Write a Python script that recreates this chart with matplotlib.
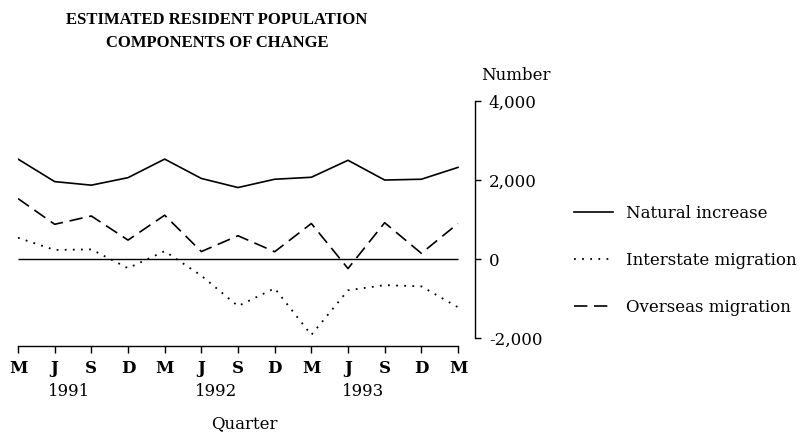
import matplotlib
matplotlib.use("Agg")
import matplotlib.pyplot as plt
from matplotlib import transforms

plt.rcParams['font.family'] = ['DejaVu Serif']
TITLE_FONT = ['Liberation Serif', 'DejaVu Serif']

months = ["M", "J", "S", "D", "M", "J", "S", "D", "M", "J", "S", "D", "M"]
years = ["1991", "1992", "1993"]
year_pos = [1, 5, 9]
natural = [2530, 1960, 1870, 2060, 2530, 2040, 1810, 2020, 2070, 2500, 2000, 2020, 2320]
interstate = [540, 230, 245, -230, 200, -420, -1190, -740, -1920, -790, -660, -690, -1220]
overseas = [1530, 880, 1090, 480, 1110, 190, 590, 185, 900, -240, 920, 145, 900]
yticks = [4000, 2000, 0, -2000]
ytick_labels = ["4,000", "2,000", "0", "-2,000"]

x = list(range(len(months)))

fig = plt.figure(figsize=(8.06, 4.34), dpi=100)
ax = fig.add_axes([18/806, 1-346/434, (475-18)/806, (346-101)/434])

ax.hlines(0, x[0], x[-1], color='black', lw=1.0)
ax.plot(x, natural, color='black', lw=1.2, label='Natural increase')
ax.plot(x, interstate, color='black', lw=1.3, linestyle=(0, (1, 3.5)), label='Interstate migration')
ax.plot(x, overseas, color='black', lw=1.2, linestyle=(0, (8, 4)), label='Overseas migration')

ax.set_xlim(0, (475-18)/((458-18)/12))
ax.set_ylim(-2200, 4000)

for s in ['top', 'left']:
    ax.spines[s].set_visible(False)
ax.spines['right'].set_bounds(-2000, 4000)
ax.spines['bottom'].set_bounds(x[0], x[-1])
ax.spines['right'].set_linewidth(1.0)
ax.spines['bottom'].set_linewidth(1.0)

ax.yaxis.tick_right()
ax.set_yticks(yticks)
ax.set_yticklabels(ytick_labels, fontsize=12)
ax.tick_params(axis='y', direction='out', length=4, width=1, pad=6)

ax.set_xticks(x)
ax.set_xticklabels(months, fontsize=12, fontweight='bold')
ax.tick_params(axis='x', direction='out', length=5, width=1, pad=5)

trans = transforms.blended_transform_factory(ax.transData, fig.transFigure)
for yr, p in zip(years, year_pos):
    ax.text(p + 0.4, 1-391/434, yr, transform=trans, ha='center', va='center', fontsize=12)
fig.text(244/806, 1-424/434, "Quarter", ha='center', va='center', fontsize=12)

fig.text(481/806, 1-76/434, "Number", ha='left', va='center', fontsize=12)

fig.text(217/806, 1-20/434, "ESTIMATED RESIDENT POPULATION", ha='center', va='center',
         fontsize=12, fontweight='bold', family=TITLE_FONT)
fig.text(217/806, 1-43/434, "COMPONENTS OF CHANGE", ha='center', va='center',
         fontsize=12, fontweight='bold', family=TITLE_FONT)

leg = fig.legend(loc='upper left', bbox_to_anchor=(574/806, 1-205/434), frameon=False,
                 fontsize=12, handlelength=2.35, handletextpad=0.8, labelspacing=1.8,
                 borderpad=0, borderaxespad=0)

fig.savefig("out.png", dpi=100)
